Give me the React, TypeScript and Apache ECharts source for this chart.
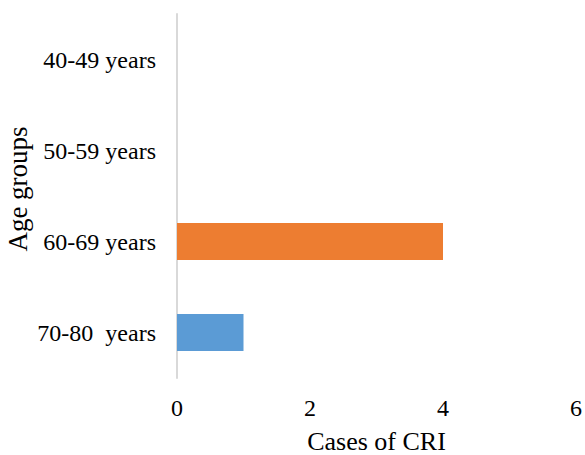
import React, { useEffect, useRef } from "react";
import * as echarts from "echarts";

const categories = ["70-80  years", "60-69 years", "50-59 years", "40-49 years"];
const values = [1, 4, 0, 0];
const barColors = ["#5B9BD5", "#ED7D31", "#A5A5A5", "#FFC000"];
const xTicks = { min: 0, max: 6, interval: 2 };

export default function App() {
  const ref = useRef<HTMLDivElement>(null);
  useEffect(() => {
    if (!ref.current) return;
    const chart = echarts.init(ref.current, null, { renderer: "svg" });
    const font = "'Liberation Serif', 'Times New Roman', serif";
    chart.setOption({
      animation: false,
      backgroundColor: "#ffffff",
      grid: { left: 177, right: 9, top: 14, bottom: 77, containLabel: false, outerBoundsMode: "none" },
      xAxis: {
        type: "value",
        min: xTicks.min,
        max: xTicks.max,
        interval: xTicks.interval,
        name: "Cases of CRI",
        nameLocation: "middle",
        nameGap: 50,
        nameMoveOverlap: false,
        nameTextStyle: { fontFamily: font, fontSize: 26, color: "#000" },
        axisLine: { show: false },
        axisTick: { show: false },
        splitLine: { show: false },
        axisLabel: { fontFamily: font, fontSize: 24, color: "#000", margin: 18 },
      },
      yAxis: {
        type: "category",
        data: categories,
        name: "Age groups",
        nameLocation: "middle",
        nameGap: 146,
        nameMoveOverlap: false,
        nameTextStyle: { fontFamily: font, fontSize: 27, color: "#000", padding: [0, 0, 0, 14] },
        axisLine: { show: true, lineStyle: { color: "#d9d9d9", width: 2 } },
        axisTick: { show: false },
        splitLine: { show: false },
        axisLabel: { fontFamily: font, fontSize: 24, color: "#000", margin: 21 },
      },
      series: [
        {
          type: "bar",
          barWidth: 37,
          data: values.map((v, i) => ({ value: v, itemStyle: { color: barColors[i] } })),
        },
      ],
    });
    return () => chart.dispose();
  }, []);
  return (
    <div
      ref={ref}
      style={{ position: "fixed", left: 0, top: 0, width: 585, height: 455 }}
    />
  );
}
